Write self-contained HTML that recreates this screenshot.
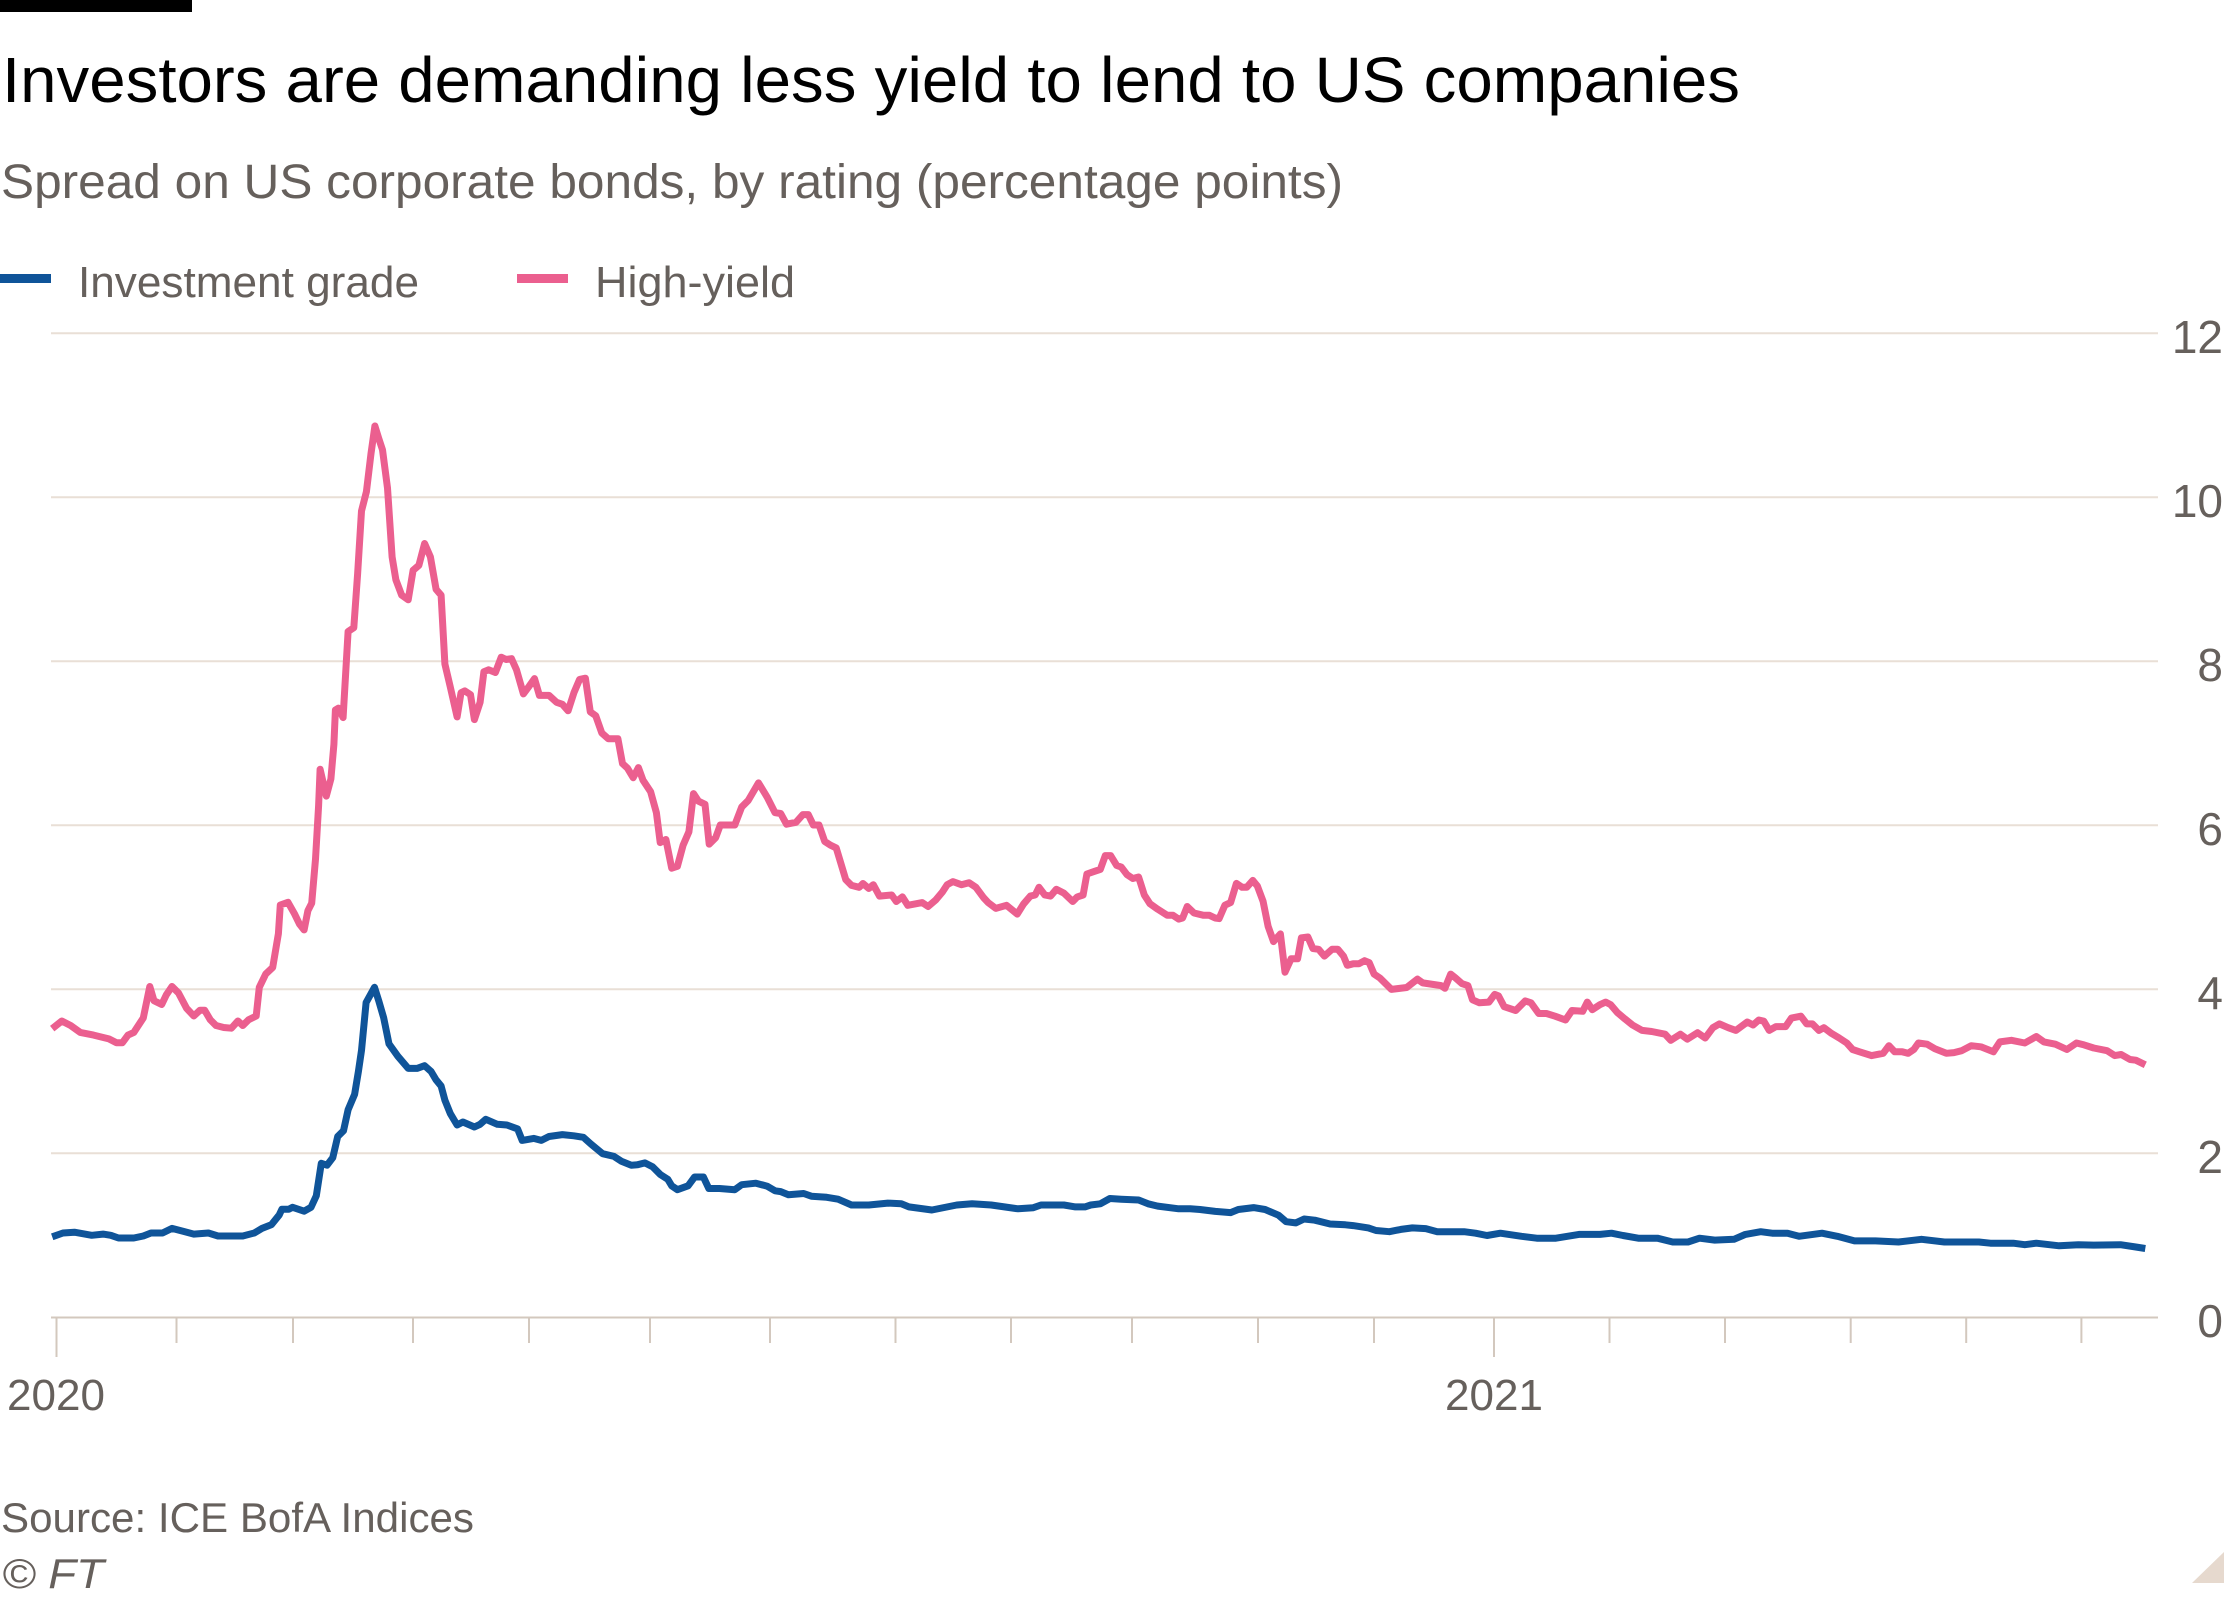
<!DOCTYPE html>
<html>
<head>
<meta charset="utf-8">
<style>
html,body{margin:0;padding:0;background:#fff;}
svg{display:block;}
text{font-family:"Liberation Sans",sans-serif;}
</style>
</head>
<body>
<svg width="2240" height="1600" viewBox="0 0 2240 1600" xmlns="http://www.w3.org/2000/svg">
<rect x="0" y="0" width="2240" height="1600" fill="#fff"/>
<rect x="0" y="0" width="192" height="12" fill="#000"/>
<text x="2" y="102" font-size="64" fill="#000" textLength="1738" lengthAdjust="spacingAndGlyphs">Investors are demanding less yield to lend to US companies</text>
<text x="1" y="198" font-size="48" fill="#66605c" textLength="1342" lengthAdjust="spacingAndGlyphs">Spread on US corporate bonds, by rating (percentage points)</text>
<rect x="0" y="274" width="51" height="9" fill="#0f5499"/>
<text x="78" y="297" font-size="44" fill="#66605c" textLength="341" lengthAdjust="spacingAndGlyphs">Investment grade</text>
<rect x="517" y="274" width="51" height="9" fill="#eb5f8f"/>
<text x="595" y="297" font-size="44" fill="#66605c" textLength="200" lengthAdjust="spacingAndGlyphs">High-yield</text>

<g stroke="#e9dfd6" stroke-width="2">
<line x1="51" y1="333.3" x2="2158" y2="333.3"/>
<line x1="51" y1="497.3" x2="2158" y2="497.3"/>
<line x1="51" y1="661.3" x2="2158" y2="661.3"/>
<line x1="51" y1="825.3" x2="2158" y2="825.3"/>
<line x1="51" y1="989.3" x2="2158" y2="989.3"/>
<line x1="51" y1="1153.3" x2="2158" y2="1153.3"/>
</g>
<g stroke="#d3c8be" stroke-width="2">
<line x1="51" y1="1317.5" x2="2158" y2="1317.5"/>
<line x1="56.5" y1="1317" x2="56.5" y2="1357"/>
<line x1="176.5" y1="1317" x2="176.5" y2="1343"/>
<line x1="293" y1="1317" x2="293" y2="1343"/>
<line x1="413" y1="1317" x2="413" y2="1343"/>
<line x1="529" y1="1317" x2="529" y2="1343"/>
<line x1="650" y1="1317" x2="650" y2="1343"/>
<line x1="770" y1="1317" x2="770" y2="1343"/>
<line x1="895.5" y1="1317" x2="895.5" y2="1343"/>
<line x1="1011" y1="1317" x2="1011" y2="1343"/>
<line x1="1132" y1="1317" x2="1132" y2="1343"/>
<line x1="1258" y1="1317" x2="1258" y2="1343"/>
<line x1="1374" y1="1317" x2="1374" y2="1343"/>
<line x1="1494" y1="1317" x2="1494" y2="1357"/>
<line x1="1609.5" y1="1317" x2="1609.5" y2="1343"/>
<line x1="1725" y1="1317" x2="1725" y2="1343"/>
<line x1="1850.7" y1="1317" x2="1850.7" y2="1343"/>
<line x1="1966.2" y1="1317" x2="1966.2" y2="1343"/>
<line x1="2081.4" y1="1317" x2="2081.4" y2="1343"/>
</g>

<g font-size="46" fill="#66605c" text-anchor="end">
<text x="2223" y="353">12</text>
<text x="2223" y="517">10</text>
<text x="2223" y="681">8</text>
<text x="2223" y="845">6</text>
<text x="2223" y="1009">4</text>
<text x="2223" y="1173">2</text>
<text x="2223" y="1337">0</text>
</g>
<g font-size="44" fill="#66605c" text-anchor="middle">
<text x="56" y="1410">2020</text>
<text x="1494" y="1410">2021</text>
</g>

<polyline fill="none" stroke="#0f5499" stroke-width="7" stroke-linejoin="round" stroke-linecap="butt" points="52.2,1236.8 63,1233 74.4,1232.2 91.7,1235.3 103.1,1234.1 110.8,1235.3 118.5,1238 133.8,1238 143.3,1236 151,1233 162.5,1233 172,1228.4 183.5,1231.4 193.8,1234.1 208.4,1233 218,1236 242.8,1236 254.3,1233 262,1228.4 271.5,1224.6 279.2,1215 281.9,1209.2 288.8,1209.2 292.6,1207.3 304.1,1211.2 311,1207.3 316.3,1195.8 321.3,1163.3 327,1165.2 332.8,1157.6 337.7,1136.5 343.5,1130.8 348.1,1109.7 354.6,1094.4 358.4,1071.5 361.5,1050.4 366.1,1002.6 374.5,987.3 378.7,1000.7 383.7,1017.9 389,1043.9 397.8,1056.2 408.2,1068.4 417,1068.4 424.6,1065.7 431.1,1071.5 436.1,1079.9 441.1,1086 444.9,1100.2 450.3,1113.6 457.1,1125 462.9,1122 474.4,1127 480.1,1124.3 485.8,1119.3 497.3,1124.3 506.9,1125 517.6,1128.9 522.2,1140.4 533.7,1138.4 541.3,1140.4 549,1136.5 562.4,1134.6 573.9,1135.8 583.4,1137.3 591.1,1144.2 602.6,1153.7 614,1156.4 621.7,1161.4 631.3,1165.2 637.2,1164.8 644.9,1162.9 652.5,1166.7 660.2,1174.4 667.8,1179.3 671.7,1185.8 677.4,1189.7 688.1,1185.8 694.6,1177 703.4,1177 708.8,1188.5 719.5,1188.5 734.8,1189.7 741.7,1184.7 755.9,1183.2 767.3,1186.2 775,1190.8 780.7,1191.6 788.4,1194.7 803.7,1193.5 811.4,1196.2 826.7,1197.3 838.1,1199.2 851.5,1205 868.8,1205 887.9,1203.1 901.3,1203.8 908.9,1206.9 931.9,1210 956.8,1205 972.1,1203.8 991.2,1205 1018,1208.8 1033.3,1207.7 1041,1205 1063.9,1205 1075.4,1206.9 1085,1206.9 1090.7,1205 1100.3,1203.8 1109.9,1198.5 1121.3,1199.2 1138.6,1200 1148.1,1203.8 1157.7,1206.1 1178.7,1208.8 1190.2,1208.8 1200,1209.5 1215.3,1211.4 1230.6,1212.6 1238.3,1209.5 1253.6,1207.6 1265.1,1209.5 1278.5,1215.2 1286.1,1221.7 1295.7,1222.9 1304.1,1219 1314.8,1220.2 1330.1,1224 1345.4,1224.8 1353.1,1225.6 1368.4,1227.9 1376,1230.5 1389.4,1231.7 1400.9,1229.4 1412.4,1227.9 1425.8,1228.6 1437.3,1231.7 1464.1,1231.7 1475.5,1233.2 1487,1235.5 1500.4,1233.2 1521.5,1236.3 1536.8,1238.2 1555.9,1238.2 1578.9,1234.4 1600,1234.4 1611.5,1233.2 1623,1235.5 1638.3,1238.2 1657.4,1238.2 1672.7,1242 1688,1242 1699.5,1238.2 1714.8,1240.1 1734,1239.3 1745.4,1234.4 1760.7,1231.7 1772.2,1233.2 1787.5,1233.2 1799,1236.3 1822,1233.2 1837.3,1236.3 1854.5,1240.9 1875.5,1240.9 1898.5,1242 1921.5,1239.3 1944.4,1242 1978.9,1242 1990.4,1243.2 2013.3,1243.2 2024.8,1244.7 2036.3,1243.2 2059.2,1245.8 2078.4,1244.7 2093.7,1245.1 2120.5,1244.7 2135.8,1247 2145.3,1248.5"/>

<polyline fill="none" stroke="#eb5f8f" stroke-width="7" stroke-linejoin="round" stroke-linecap="butt" points="52.2,1028.6 61.8,1021 70.6,1025.5 80.2,1032.4 93.6,1035.1 101.2,1037 108.9,1038.9 116.5,1042.8 122.3,1042.8 128,1035.1 133.8,1032.4 143.3,1017.9 149.8,986.5 154,1000.7 161.7,1004.5 166.3,994.9 172,986.5 178.5,993 186.6,1008.3 193.8,1016 200,1010.2 204.6,1010.2 210.3,1019.8 216,1025.5 223.7,1027.5 231.4,1028.2 237.9,1021 242.8,1025.5 248.6,1019.8 256.2,1016 259.3,987.3 265.8,973.9 272.7,967.4 278.4,933.7 280.3,905 288,902.3 294.5,913.8 299.5,924.1 304.1,929.9 307.9,910.7 311.7,903.2 315.5,859.2 318.6,805.7 320.1,769.3 323.2,782.7 326.3,796.1 330.9,778.9 333.9,744.4 335.4,710 338.5,708.1 343.1,717.6 346.2,664.1 348.1,631.5 353.8,627.7 357.6,574.1 361.5,511 366.4,491.8 371,453.6 374.9,426 378.7,438.3 382.5,449.8 387.5,488 392.1,556.9 395.9,579.9 401.7,595.2 408.2,599.8 413.1,570.3 418.9,565.3 424.6,543.5 430.4,556.9 436.1,589.4 441.1,595.2 444.9,664.1 450.3,687 457.1,716.9 461,692.8 464.8,690.9 470.5,694.7 474.4,719.6 480.1,702.3 483.9,671.7 488.5,669.8 495.4,672.5 501.2,657.2 506.1,659.5 511.5,658.7 516.5,669.8 523.4,693.9 529.1,686.3 534.5,678.6 539.4,695.4 549,695.4 556.6,702.3 562.4,704.3 568.1,710.8 573.9,692.8 579.6,679.4 585.4,678.2 590.3,711.9 595.7,715.7 601.8,733 608.3,738.7 617.9,738.7 622.5,763.6 627.5,768.2 633.2,777.7 638.4,767.6 643,780.2 650.6,791.7 656.4,812.7 660.2,842.6 665.9,839.5 671.7,868.2 677.4,866.3 683.1,845.2 688.9,831.8 693.5,793.6 698.5,801.2 705,804.3 709.2,844.1 715.7,837.6 720.3,825 734.8,825 741.7,807 748.2,800.5 758.5,782.9 767.3,797.4 775,812.7 780.7,813.5 786.5,824.2 796,822.3 802.9,814.6 808.3,814.6 813.3,825 819,825 824.7,841.4 830.5,845.2 836.2,847.9 845.8,879.7 851.5,885.4 859.2,887.3 863,883.5 868.8,888.5 873.3,884.7 879.5,896.1 891.7,895 896.3,901.5 902.4,896.9 907.8,905.3 922.3,902.6 928.1,906.5 935.7,900 942.2,892.3 947.2,884.7 953,881.6 961.4,884.7 969,882.7 975.9,887.3 983.6,897.7 988.2,902.6 995.8,908.4 1006.5,905.3 1017.2,914.1 1023.7,903.8 1030.3,896.1 1035.2,895 1039,887.3 1044.8,895 1050.5,896.1 1056.3,889.3 1063.9,893.1 1072.7,901.5 1077.3,896.9 1083.1,895 1086.9,874 1094.6,871.3 1100.3,869.4 1105.3,855.6 1110.6,855.6 1116.7,865.5 1121.3,867.1 1127.1,874.7 1132.8,878.5 1138.6,877 1144.3,895 1150,903.8 1157.7,909.2 1167.3,915.3 1173,915.3 1178.7,919.1 1182.6,918 1187.2,906.5 1194,913 1203.6,915.3 1209.4,915.3 1215.1,918 1219.1,918.6 1224.9,905.2 1230.6,902.6 1236.4,883.4 1242.1,887.3 1246.7,887.3 1252.8,880.4 1257.4,886.1 1263.1,901.4 1268.1,926.3 1273.5,941.6 1280.4,933.9 1285,972.2 1291.1,958.8 1297.6,958.8 1301.4,937.8 1307.9,937 1312.9,948.5 1318.6,949.3 1324.4,956.1 1332,949.3 1337.8,949.3 1343.5,956.1 1347.3,965.3 1353.1,963.8 1358.8,963.8 1364.6,960.7 1369.2,962.6 1374.1,974.1 1379.9,978 1391.4,989.4 1406.7,987.5 1417.4,979.1 1422.7,982.9 1441.1,985.6 1444.9,988.3 1450.7,974.1 1455.6,978 1462.1,983.7 1467.9,985.6 1472.5,999.8 1479.4,1002.8 1488.9,1002.1 1494.7,994.4 1498.5,995.9 1504.2,1006.7 1515.7,1010.5 1525.3,1000.9 1531,1002.8 1538.7,1013.5 1546.4,1013.5 1555.1,1016.2 1565.5,1020 1572,1010.5 1582.7,1011.3 1587.3,1002.1 1592.3,1009.7 1599.9,1004.7 1605.7,1002.1 1610.7,1004.7 1617.2,1012.4 1624.9,1018.9 1632.5,1025 1642.1,1030.4 1651.7,1031.5 1665.1,1034.2 1670.8,1040.3 1680.4,1034.2 1687.3,1039.2 1697.6,1032.7 1705.2,1038 1712.9,1027.7 1719.4,1023.9 1728.2,1027.7 1735.9,1030.4 1747.3,1022 1753.1,1025 1758.8,1020 1763.8,1021.2 1769.2,1030.4 1776,1026.6 1785.6,1026.6 1791.4,1018.1 1800.9,1016.2 1806.7,1023.9 1812.4,1023.9 1818.9,1030.4 1823.9,1027.7 1831.5,1033.4 1839.2,1038 1846.8,1043 1852.6,1049.5 1859.5,1051.8 1871.7,1055.6 1883.2,1053.3 1888.9,1045.7 1894.7,1051.8 1902.3,1051.8 1908.1,1053.3 1913.8,1049.5 1918.4,1043 1927.2,1044.2 1934.9,1048.8 1946.3,1053.3 1954,1052.6 1961.7,1050.7 1971.2,1045.7 1980.8,1046.8 1993.4,1051.8 1999.9,1041.9 2011.4,1040.3 2024.8,1043 2036.3,1036.5 2043.9,1041.9 2055.4,1044.2 2066.9,1049.5 2076.5,1043 2084.1,1044.9 2093.7,1048 2107.1,1050.7 2114.7,1055.6 2121.2,1054.5 2130,1059.5 2135.8,1060.2 2145.3,1064.8"/>

<text x="1" y="1532" font-size="42" fill="#66605c" textLength="473" lengthAdjust="spacingAndGlyphs">Source: ICE BofA Indices</text>
<text x="2" y="1588" font-size="42" fill="#66605c" font-style="italic" textLength="102" lengthAdjust="spacingAndGlyphs">© FT</text>
<polygon points="2192,1583 2224,1552 2224,1583" fill="#e6d9ce"/>
</svg>
</body>
</html>
